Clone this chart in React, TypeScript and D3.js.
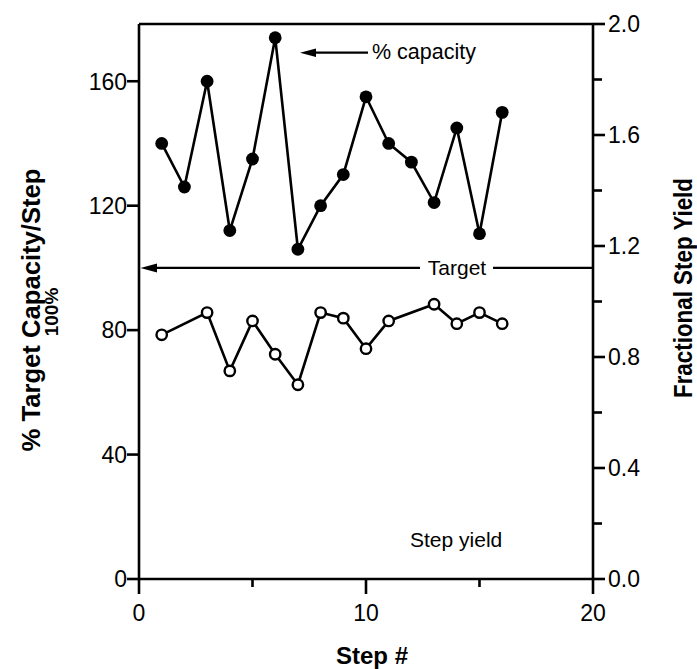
import React from "react";
import * as d3 from "d3";

// ---- Data ----
const capacitySteps = [1, 2, 3, 4, 5, 6, 7, 8, 9, 10, 11, 12, 13, 14, 15, 16];
const capacityValues = [140, 126, 160, 112, 135, 174, 106, 120, 130, 155, 140, 134, 121, 145, 111, 150];
const yieldSteps = [1, 3, 4, 5, 6, 7, 8, 9, 10, 11, 13, 14, 15, 16];
const yieldValues = [0.88, 0.96, 0.75, 0.93, 0.81, 0.70, 0.96, 0.94, 0.83, 0.93, 0.99, 0.92, 0.96, 0.92];
const xTicks = [0, 10, 20];
const xMinorTicks = [5, 15];
const leftTicks = [0, 40, 80, 120, 160];
const rightTicks = [0, 0.4, 0.8, 1.2, 1.6, 2.0];
const rightMinorTicks = [0.2, 0.6, 1.0, 1.4, 1.8];
const targetValue = 100;

const W = 697;
const H = 669;
const FONT = "'Liberation Sans', Arial, Helvetica, sans-serif";

export default function App() {
  const x = d3.scaleLinear().domain([0, 20]).range([139, 593]);
  const yL = d3.scaleLinear().domain([0, 178.4]).range([579, 24]);
  const yR = d3.scaleLinear().domain([0, 2]).range([579, 24]);

  const x0 = x(0), x1 = x(20);
  const yb = yL(0), yt = 24;

  const capLine = d3.line<number>()
    .x((_, i) => x(capacitySteps[i]))
    .y((d) => yL(d))(capacityValues) as string;
  const yieldLine = d3.line<number>()
    .x((_, i) => x(yieldSteps[i]))
    .y((d) => yR(d))(yieldValues) as string;

  const yT = yL(targetValue);
  const sw = 2.6;

  return (
    <svg width={W} height={H} style={{ position: "absolute", left: 0, top: 0, background: "#fff" }}
      fontFamily={FONT}>
      <rect x={0} y={0} width={W} height={H} fill="#fff" />
      {/* frame */}
      <line x1={x0} y1={yt} x2={x1} y2={yt} stroke="#000" strokeWidth={sw} />
      <line x1={x0} y1={yt} x2={x0} y2={yb} stroke="#000" strokeWidth={sw} />
      <line x1={x1} y1={yt} x2={x1} y2={yb} stroke="#000" strokeWidth={sw} />
      <line x1={x0 - 1} y1={yb} x2={x1 + 1} y2={yb} stroke="#000" strokeWidth={sw} />

      {/* x ticks */}
      {xTicks.map((t) => (
        <g key={"xt" + t}>
          <line x1={x(t)} y1={yb} x2={x(t)} y2={yb + 15} stroke="#000" strokeWidth={sw} />
          <text x={x(t)} y={621} fontSize={23} textAnchor="middle">{t}</text>
        </g>
      ))}
      {xMinorTicks.map((t) => (
        <line key={"xm" + t} x1={x(t)} y1={yb} x2={x(t)} y2={yb + 8} stroke="#000" strokeWidth={sw} />
      ))}

      {/* left ticks */}
      {leftTicks.map((t) => (
        <g key={"lt" + t}>
          <line x1={x0 - 12} y1={yL(t)} x2={x0} y2={yL(t)} stroke="#000" strokeWidth={sw} />
          <text x={x0 - 12} y={yL(t)} dy="0.36em" fontSize={23} textAnchor="end">{t}</text>
        </g>
      ))}

      {/* right ticks */}
      {rightTicks.map((t) => (
        <g key={"rt" + t}>
          <line x1={x1} y1={yR(t)} x2={x1 + 12} y2={yR(t)} stroke="#000" strokeWidth={sw} />
          <text x={x1 + 15} y={yR(t)} dy="0.36em" fontSize={23} textAnchor="start">{t.toFixed(1)}</text>
        </g>
      ))}
      {rightMinorTicks.map((t) => (
        <line key={"rm" + t} x1={x1} y1={yR(t)} x2={x1 + 9} y2={yR(t)} stroke="#000" strokeWidth={sw} />
      ))}

      {/* target line */}
      <line x1={x0 + 10} y1={yT} x2={420} y2={yT} stroke="#000" strokeWidth={2.2} />
      <path d={`M${x0 + 1.5},${yT} L${x0 + 18},${yT - 4.5} L${x0 + 18},${yT + 4.5} Z`} fill="#000" />
      <text x={457} y={yT + 7} fontSize={21} textAnchor="middle">Target</text>
      <line x1={493} y1={yT} x2={x1} y2={yT} stroke="#000" strokeWidth={2.2} />

      {/* % capacity annotation */}
      <line x1={310} y1={52.7} x2={368} y2={52.7} stroke="#000" strokeWidth={2.2} />
      <path d={`M300,52.7 L316,48.5 L316,57 Z`} fill="#000" />
      <text x={372} y={59} fontSize={21.5}>% capacity</text>

      {/* step yield label */}
      <text x={410} y={547} fontSize={21}>Step yield</text>

      {/* capacity series */}
      <path d={capLine} fill="none" stroke="#000" strokeWidth={sw} strokeLinejoin="miter" />
      {capacityValues.map((v, i) => (
        <circle key={"c" + i} cx={x(capacitySteps[i])} cy={yL(v)} r={6.4} fill="#000" />
      ))}

      {/* yield series */}
      <path d={yieldLine} fill="none" stroke="#000" strokeWidth={sw} />
      {yieldValues.map((v, i) => (
        <circle key={"y" + i} cx={x(yieldSteps[i])} cy={yR(v)} r={5.2} fill="#fff" stroke="#000" strokeWidth={2.4} />
      ))}

      {/* axis titles */}
      <text x={372} y={664} fontSize={24} fontWeight="bold" textAnchor="middle">Step #</text>
      <text transform="translate(40,310) rotate(-90)" fontSize={26} fontWeight="bold" textAnchor="middle"
        textLength={283} lengthAdjust="spacingAndGlyphs">% Target Capacity/Step</text>
      <text transform="translate(58,312) rotate(-90)" fontSize={19} fontWeight="bold" textAnchor="middle">100%</text>
      <text transform="translate(692,288) rotate(-90)" fontSize={26} fontWeight="bold" textAnchor="middle"
        textLength={220} lengthAdjust="spacingAndGlyphs">Fractional Step Yield</text>
    </svg>
  );
}
